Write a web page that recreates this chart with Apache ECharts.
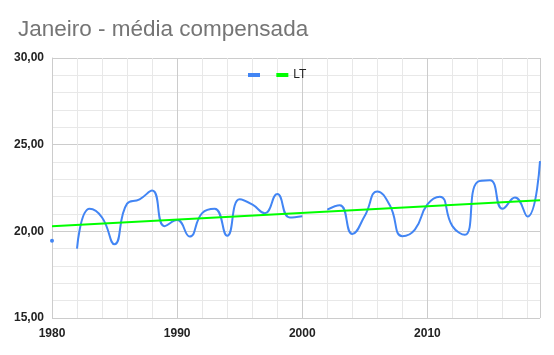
<!DOCTYPE html>
<html>
<head>
<meta charset="utf-8">
<script src="https://cdn.jsdelivr.net/npm/echarts@6/dist/echarts.min.js"></script>
<style>html,body{margin:0;padding:0;background:#fff}#c{width:554px;height:355px}</style>
</head>
<body>
<div id="c"></div>
<script>
const years = [1980,1981,1982,1983,1984,1985,1986,1987,1988,1989,1990,1991,1992,1993,1994,1995,1996,1997,1998,1999,2000,2001,2002,2003,2004,2005,2006,2007,2008,2009,2010,2011,2012,2013,2014,2015,2016,2017,2018,2019];
const media = [19.46,null,19.0,21.3,20.8,19.25,21.6,21.85,22.35,20.3,20.65,19.7,21.05,21.3,19.75,21.85,21.55,21.05,22.15,20.8,20.87,null,21.25,21.5,19.85,20.9,22.3,21.5,19.72,20.1,21.55,22.0,20.3,19.8,22.85,22.95,21.3,21.95,20.85,24.05];
const trendYears = [1980, 2019];
const trendValues = [20.29, 21.79];
const yTicks = [15, 20, 25, 30];
const xLabels = [1980, 1990, 2000, 2010];

const mediaData = years.map((y, i) => {
  const v = media[i];
  if (v === null) return [y, null];
  const prevNull = i === 0 || media[i-1] === null;
  const nextNull = i === years.length-1 || media[i+1] === null;
  if (prevNull && nextNull) return {value:[y, v], symbol:'circle', symbolSize:4};
  return [y, v];
});
const trendData = trendYears.map((y, i) => [y, trendValues[i]]);

const chart = echarts.init(document.getElementById('c'), null, {renderer:'canvas'});
chart.setOption({
  animation: false,
  title: {
    text: 'Janeiro - média compensada',
    left: 13, top: 13,
    textStyle: {fontFamily: 'Liberation Sans, Arial', fontSize: 22.5, fontWeight: 'normal', color: '#757575'}
  },
  legend: {
    left: 243, top: 64,
    itemWidth: 12, itemHeight: 4, itemGap: 8,
    icon: 'rect',
    textStyle: {fontFamily: 'Liberation Sans, Arial', fontSize: 12, color: '#222'},
    data: [' ', 'LT']
  },
  grid: {left: 52, right: 14, top: 58, bottom: 37, containLabel: false},
  xAxis: {
    type: 'value', min: 1980, max: 2019, interval: 10,
    axisLine: {show: false},
    axisTick: {show: false},
    axisLabel: {
      fontFamily: 'Liberation Sans, Arial', fontSize: 12, fontWeight: 'bold', color: '#222', margin: 10,
      formatter: v => xLabels.indexOf(v) >= 0 ? String(v) : ''
    },
    splitLine: {show: true, lineStyle: {color: '#cccccc', width: 1}},
    minorTick: {show: false, splitNumber: 5},
    minorSplitLine: {show: true, lineStyle: {color: '#e8e8e8', width: 1}}
  },
  yAxis: {
    type: 'value', min: 15, max: 30, interval: 5,
    axisLine: {show: true, lineStyle: {color: '#cccccc'}},
    axisTick: {show: false},
    axisLabel: {
      fontFamily: 'Liberation Sans, Arial', fontSize: 12, fontWeight: 'bold', color: '#222', margin: 8,
      formatter: v => yTicks.indexOf(v) >= 0 ? v.toFixed(2).replace('.', ',') : ''
    },
    splitLine: {show: true, lineStyle: {color: '#cccccc', width: 1}},
    minorTick: {show: false, splitNumber: 5},
    minorSplitLine: {show: true, lineStyle: {color: '#e8e8e8', width: 1}}
  },
  series: [
    {
      name: ' ', type: 'line', data: mediaData, smooth: 0.5,
      symbol: 'none', showSymbol: true, connectNulls: false,
      lineStyle: {color: '#4285F4', width: 2},
      itemStyle: {color: '#4285F4'},
      z: 3
    },
    {
      name: 'LT', type: 'line', data: trendData,
      symbol: 'none',
      lineStyle: {color: '#00ff00', width: 2},
      itemStyle: {color: '#00ff00'},
      z: 4
    }
  ]
});
</script>
</body>
</html>
